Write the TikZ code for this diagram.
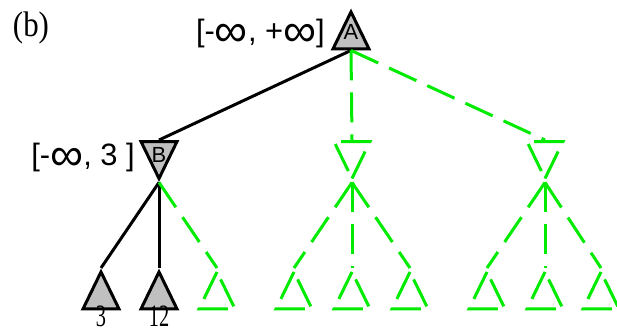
\documentclass[tikz,border=0pt]{standalone}
\usepackage{fontspec}
\setmainfont{Liberation Serif}
\setsansfont{Liberation Sans}
\usetikzlibrary{positioning,calc,shapes.geometric}

\definecolor{cutgreen}{RGB}{0,235,0}
\definecolor{trigray}{RGB}{192,192,192}
\newcommand\infsym{\raisebox{-0.17em}{\scalebox{1.5}{∞}}}
\newcommand\tallnum[1]{\scalebox{0.85}[1.3]{#1}}

\begin{document}
\begin{tikzpicture}[x=1bp, y=-1bp,
  tri/.style={isosceles triangle, isosceles triangle stretches,
              minimum width=36bp, minimum height=37bp, inner sep=0pt,
              line width=3bp},
  maxtri/.style={tri, shape border rotate=90, draw=black, fill=trigray},
  mintri/.style={tri, shape border rotate=270, draw=black, fill=trigray},
  cutmax/.style={tri, shape border rotate=90, draw=cutgreen, dash pattern=on 30bp off 10bp},
  cutmin/.style={tri, shape border rotate=270, draw=cutgreen, dash pattern=on 30bp off 10bp},
  inner/.style={font=\sffamily\fontsize{22}{22}\selectfont, inner sep=0pt},
  bound/.style={font=\sffamily\fontsize{31}{31}\selectfont, inner sep=0pt},
  num/.style={font=\rmfamily\fontsize{24}{24}\selectfont, inner sep=0pt},
  edge/.style={line width=3bp},
  cut/.style={line width=3bp, cutgreen, dash pattern=on 30bp off 12bp}
]
\useasboundingbox (0,0) rectangle (617,332);

% root and second level
\node[maxtri, anchor=apex] (A) at (351,8) {};
\node[inner] at ($(A.apex)+(0,24)$) (Alab) {A};
\node[mintri, anchor=lower side] (B) at (159,140) {};
\node[inner] at ($(B.lower side)+(0,15)$) (Blab) {B};
\node[cutmin, anchor=lower side] (C) at (352,140) {};
\node[cutmin, anchor=lower side] (D) at (545,140) {};

% leaves
\node[maxtri, anchor=apex] (b1) at (101,268) {};
\node[maxtri, anchor=apex] (b2) at (159,268) {};
\node[cutmax, anchor=apex] (b3) at (217,268) {};
\foreach \n/\x in {c1/294, c2/352, c3/410, d1/487, d2/545, d3/601}
  \node[cutmax, anchor=apex] (\n) at (\x,268) {};

% bounds and labels
\node[bound, anchor=base east] (rangeA) at (325,41.5) {[-\infsym, +\infsym]};
\node[bound, anchor=base east] (rangeB) at (135,165.5) {[-\infsym, 3 ]};
\node[font=\rmfamily\fontsize{31}{31}\selectfont, inner sep=0pt] (tag) at (31,28) {\scalebox{1}[1.15]{(b)}};
\node[num, anchor=base] (v1) at (101,326) {\tallnum{3}};
\node[num, anchor=base] (v2) at (159,326) {\tallnum{12}};

% edges
\draw[edge] (A.lower side) -- (B.lower side);
\draw[edge] (B.apex) -- (b1.apex);
\draw[edge] (B.apex) -- (b2.apex);
\draw[cut] (A.lower side) -- (C.lower side);
\draw[cut] (A.lower side) -- (D.lower side);
\draw[cut] (B.apex) -- (b3.apex);
\foreach \p/\k in {C/c1, C/c2, C/c3, D/d1, D/d2, D/d3}
  \draw[cut] (\p.apex) -- (\k.apex);
\end{tikzpicture}
\end{document}
